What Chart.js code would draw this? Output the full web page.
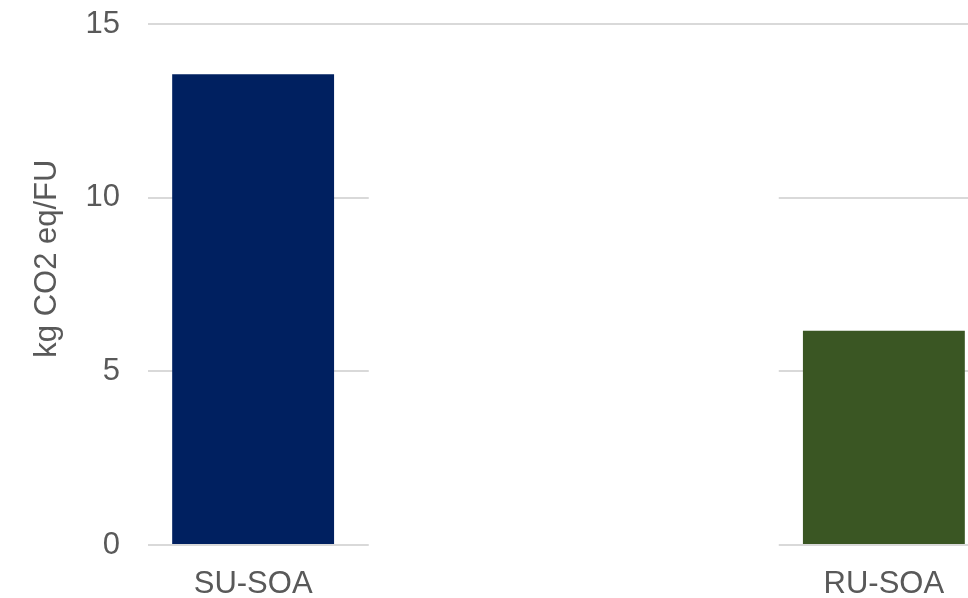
<!DOCTYPE html>
<html>
<head>
<meta charset="utf-8">
<script src="https://cdn.jsdelivr.net/npm/chart.js@4"></script>
<style>
  html, body { margin: 0; padding: 0; background: #fff; overflow: hidden; }
  #wrap { width: 1000px; height: 598px; }
</style>
</head>
<body>
<div id="wrap"><canvas id="bar_chart" width="1000" height="598"></canvas></div>
<script>
// scenario names (two empty slots between them)
var scenarios = ["SU-SOA", "", "", "RU-SOA"];
// kg CO2 eq per functional unit
var emissions = [13.55, null, null, 6.17];
var barColors = ["#002060", null, null, "#3A5623"];
var yTicks = [0, 5, 10, 15];

// blank out the grid lines behind the empty middle slots
var maskMiddle = {
    id: 'maskMiddle',
    beforeDatasetsDraw: function (chart) {
        var x = chart.scales.x, area = chart.chartArea, ctx = chart.ctx;
        var x0 = x.getPixelForValue(0.55), x1 = x.getPixelForValue(2.5);
        ctx.save();
        ctx.fillStyle = '#ffffff';
        ctx.fillRect(x0, area.top + 3, x1 - x0, area.bottom - area.top + 2);
        ctx.restore();
    }
};

var ctxBar = document.getElementById('bar_chart').getContext('2d');
var chart = new Chart(ctxBar, {
    type: 'bar',
    data: {
        labels: scenarios,
        datasets: [{
            data: emissions,
            backgroundColor: barColors,
            borderWidth: 0,
            barPercentage: 0.77,
            categoryPercentage: 1
        }]
    },
    options: {
        responsive: false,
        animation: false,
        layout: { padding: { top: 24, right: 11, left: 0, bottom: 0 } },
        plugins: { legend: { display: false }, tooltip: { enabled: false } },
        scales: {
            x: {
                grid: { display: false, drawTicks: false },
                border: { display: false },
                ticks: {
                    padding: 21,
                    color: '#595959',
                    font: { family: 'Liberation Sans, Arial', size: 31 },
                    maxRotation: 0,
                    autoSkip: false
                },
                afterFit: function (scale) {
                    scale.height = 53;
                    scale.paddingLeft = 0;
                    scale.paddingRight = 0;
                }
            },
            y: {
                min: 0,
                max: 15,
                afterBuildTicks: function (scale) {
                    scale.ticks = yTicks.map(function (v) { return { value: v }; });
                },
                grid: { color: '#D9D9D9', lineWidth: 2, drawTicks: false },
                border: { display: false },
                ticks: {
                    padding: 28,
                    color: '#595959',
                    font: { family: 'Liberation Sans, Arial', size: 31 }
                },
                title: {
                    display: true,
                    // leading spaces nudge the rotated title upward a bit
                    text: '      kg CO2 eq/FU',
                    color: '#595959',
                    font: { family: 'Liberation Sans, Arial', size: 31 },
                    padding: { top: 29, bottom: 0 }
                },
                afterFit: function (scale) {
                    scale.width = 148;
                    scale.paddingTop = 0;
                    scale.paddingBottom = 0;
                }
            }
        }
    },
    plugins: [maskMiddle]
});
</script>
</body>
</html>
